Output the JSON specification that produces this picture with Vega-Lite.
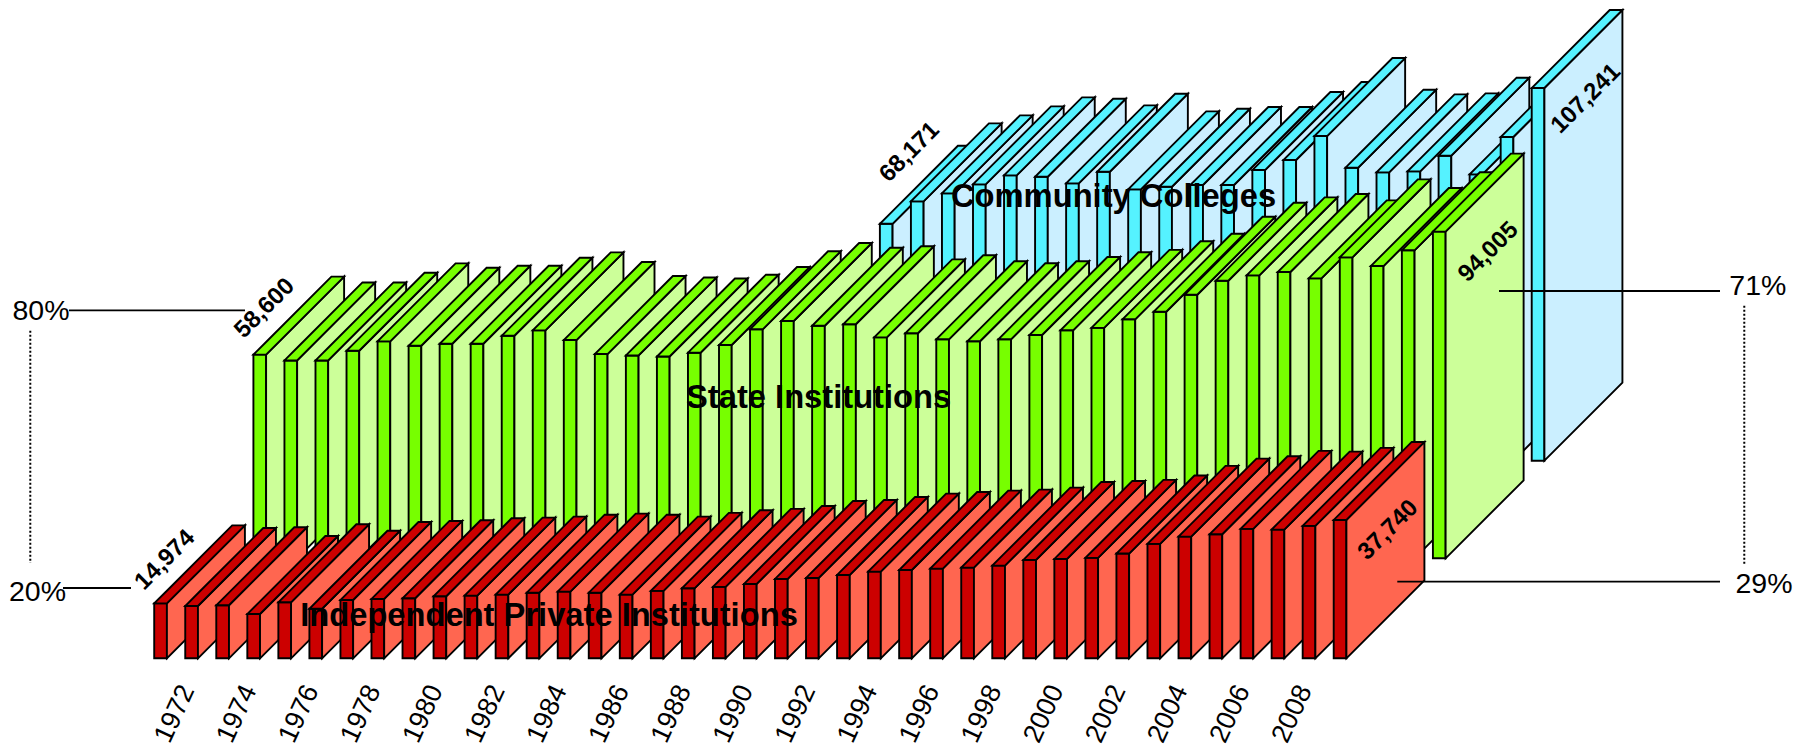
{"$schema":"https://vega.github.io/schema/vega-lite/v6.json","width":1813,"height":749,"padding":0,"autosize":"none","background":"white","view":{"stroke":null},
"data":{"values":[
{"series":"Community Colleges","year":1989,"value":68171},{"series":"Community Colleges","year":1990,"value":74620},{"series":"Community Colleges","year":1991,"value":76930},{"series":"Community Colleges","year":1992,"value":79520},{"series":"Community Colleges","year":1993,"value":82110},{"series":"Community Colleges","year":1994,"value":81720},{"series":"Community Colleges","year":1995,"value":79810},{"series":"Community Colleges","year":1996,"value":83160},{"series":"Community Colleges","year":1997,"value":78080},{"series":"Community Colleges","year":1998,"value":78840},{"series":"Community Colleges","year":1999,"value":79330},{"series":"Community Colleges","year":2000,"value":79330},{"series":"Community Colleges","year":2001,"value":83640},{"series":"Community Colleges","year":2002,"value":86530},{"series":"Community Colleges","year":2003,"value":93420},{"series":"Community Colleges","year":2004,"value":84320},{"series":"Community Colleges","year":2005,"value":82980},{"series":"Community Colleges","year":2006,"value":83260},{"series":"Community Colleges","year":2007,"value":87770},{"series":"Community Colleges","year":2008,"value":82400},{"series":"Community Colleges","year":2009,"value":93140},{"series":"Community Colleges","year":2010,"value":107241},
{"series":"State Institutions","year":1972,"value":58600},{"series":"State Institutions","year":1973,"value":56940},{"series":"State Institutions","year":1974,"value":56940},{"series":"State Institutions","year":1975,"value":59720},{"series":"State Institutions","year":1976,"value":62420},{"series":"State Institutions","year":1977,"value":61160},{"series":"State Institutions","year":1978,"value":61740},{"series":"State Institutions","year":1979,"value":61740},{"series":"State Institutions","year":1980,"value":64040},{"series":"State Institutions","year":1981,"value":65580},{"series":"State Institutions","year":1982,"value":62800},{"series":"State Institutions","year":1983,"value":58770},{"series":"State Institutions","year":1984,"value":58380},{"series":"State Institutions","year":1985,"value":58080},{"series":"State Institutions","year":1986,"value":59170},{"series":"State Institutions","year":1987,"value":61370},{"series":"State Institutions","year":1988,"value":65900},{"series":"State Institutions","year":1989,"value":68280},{"series":"State Institutions","year":1990,"value":66930},{"series":"State Institutions","year":1991,"value":67340},{"series":"State Institutions","year":1992,"value":63590},{"series":"State Institutions","year":1993,"value":64750},{"series":"State Institutions","year":1994,"value":63020},{"series":"State Institutions","year":1995,"value":62450},{"series":"State Institutions","year":1996,"value":63020},{"series":"State Institutions","year":1997,"value":64250},{"series":"State Institutions","year":1998,"value":65610},{"series":"State Institutions","year":1999,"value":66310},{"series":"State Institutions","year":2000,"value":68770},{"series":"State Institutions","year":2001,"value":70940},{"series":"State Institutions","year":2002,"value":75840},{"series":"State Institutions","year":2003,"value":79870},{"series":"State Institutions","year":2004,"value":81430},{"series":"State Institutions","year":2005,"value":82380},{"series":"State Institutions","year":2006,"value":80560},{"series":"State Institutions","year":2007,"value":86610},{"series":"State Institutions","year":2008,"value":84100},{"series":"State Institutions","year":2009,"value":88630},{"series":"State Institutions","year":2010,"value":94005},
{"series":"Independent Private Institutions","year":1972,"value":14974},{"series":"Independent Private Institutions","year":1973,"value":14270},{"series":"Independent Private Institutions","year":1974,"value":14460},{"series":"Independent Private Institutions","year":1975,"value":12080},{"series":"Independent Private Institutions","year":1976,"value":15270},{"series":"Independent Private Institutions","year":1977,"value":13520},{"series":"Independent Private Institutions","year":1978,"value":15900},{"series":"Independent Private Institutions","year":1979,"value":16190},{"series":"Independent Private Institutions","year":1980,"value":16380},{"series":"Independent Private Institutions","year":1981,"value":16920},{"series":"Independent Private Institutions","year":1982,"value":17090},{"series":"Independent Private Institutions","year":1983,"value":17380},{"series":"Independent Private Institutions","year":1984,"value":17900},{"series":"Independent Private Institutions","year":1985,"value":18190},{"series":"Independent Private Institutions","year":1986,"value":17900},{"series":"Independent Private Institutions","year":1987,"value":17380},{"series":"Independent Private Institutions","year":1988,"value":18380},{"series":"Independent Private Institutions","year":1989,"value":19090},{"series":"Independent Private Institutions","year":1990,"value":19470},{"series":"Independent Private Institutions","year":1991,"value":20280},{"series":"Independent Private Institutions","year":1992,"value":21650},{"series":"Independent Private Institutions","year":1993,"value":21920},{"series":"Independent Private Institutions","year":1994,"value":22740},{"series":"Independent Private Institutions","year":1995,"value":23650},{"series":"Independent Private Institutions","year":1996,"value":24090},{"series":"Independent Private Institutions","year":1997,"value":24470},{"series":"Independent Private Institutions","year":1998,"value":24740},{"series":"Independent Private Institutions","year":1999,"value":25280},{"series":"Independent Private Institutions","year":2000,"value":26830},{"series":"Independent Private Institutions","year":2001,"value":27100},{"series":"Independent Private Institutions","year":2002,"value":27380},{"series":"Independent Private Institutions","year":2003,"value":28570},{"series":"Independent Private Institutions","year":2004,"value":31200},{"series":"Independent Private Institutions","year":2005,"value":33200},{"series":"Independent Private Institutions","year":2006,"value":33830},{"series":"Independent Private Institutions","year":2007,"value":35290},{"series":"Independent Private Institutions","year":2008,"value":35110},{"series":"Independent Private Institutions","year":2009,"value":36110},{"series":"Independent Private Institutions","year":2010,"value":37740}
]},
"transform":[
{"calculate":"datum.series=='Community Colleges'?6.379:datum.series=='State Institutions'?3.196:0","as":"ox"},
{"calculate":"datum.series=='Community Colleges'?56863:datum.series=='State Institutions'?28777:0","as":"oy"},
{"calculate":"datum.series=='Independent Private Institutions'?datum.value*1.055:datum.value","as":"h"},
{"calculate":"datum.year+datum.ox","as":"sx"},
{"calculate":"datum.oy+datum.h","as":"top"}
],
"encoding":{},
"layer":[
{"transform":[
{"calculate":"[{f:0,a:0,l:0,m:0,n:0},{f:0,a:0.409,l:0,m:0,n:0},{f:1,a:0.409,l:0,m:0,n:0},{f:1,a:2.922,l:0,m:22446,n:22446},{f:2,a:0,l:1,m:0,n:0},{f:2,a:0.409,l:1,m:0,n:3653},{f:2,a:2.513,l:1,m:18793,n:22446},{f:2,a:2.922,l:1,m:22446,n:22446}]","as":"verts"},
{"flatten":["verts"]},
{"calculate":"datum.sx+datum.verts.a","as":"vx"},
{"calculate":"datum.oy+datum.verts.l*datum.h+datum.verts.m","as":"lo"},
{"calculate":"datum.top+datum.verts.n","as":"hi"},
{"calculate":"'s'+datum.series+'y'+datum.year+'f'+datum.verts.f","as":"face"},
{"calculate":"datum.series+(datum.verts.f==1?' side':' face')","as":"paint"}
],
"mark":{"type":"area","orient":"vertical","stroke":"#000000","strokeWidth":1.9,"strokeJoin":"miter","opacity":1,"interpolate":"linear","clip":false},
"encoding":{
"x":{"field":"vx","type":"quantitative","axis":null,"scale":{"domain":[1967.032,2025.441],"nice":false,"zero":false}},
"y":{"field":"lo","type":"quantitative","axis":null,"stack":null,"scale":{"domain":[-26101,189439],"nice":false,"zero":false}},
"y2":{"field":"hi"},
"detail":{"field":"face","type":"nominal"},
"fill":{"field":"paint","type":"nominal","legend":null,"scale":{"domain":["Community Colleges face","Community Colleges side","State Institutions face","State Institutions side","Independent Private Institutions face","Independent Private Institutions side"],"range":["#55F2FF","#CBEFFF","#77FF00","#CCFF99","#CC0000","#FF6650"]}}
}},
{"transform":[{"filter":"datum.series=='Independent Private Institutions'&&datum.year%2==0&&datum.year<=2008"},{"calculate":"datum.year+0.67","as":"lx"}],
"mark":{"type":"text","font":"Liberation Sans","fontSize":27,"angle":295,"align":"center","baseline":"middle","color":"#000000"},
"encoding":{"x":{"field":"lx","type":"quantitative"},"y":{"datum":-16000},"text":{"field":"year","type":"nominal"}}},
{"transform":[{"filter":"datum.series=='Independent Private Institutions'&&datum.year==1972"}],"mark":{"type":"text","font":"Liberation Sans","fontWeight":"bold","fontSize":24,"angle":315,"align":"center","baseline":"middle","dx":38.3,"dy":-23,"color":"#000000"},"encoding":{"x":{"field":"sx","type":"quantitative"},"y":{"field":"top","type":"quantitative"},"text":{"field":"value","type":"quantitative","format":",d"}}},
{"transform":[{"filter":"datum.series=='State Institutions'&&datum.year==1972"}],"mark":{"type":"text","font":"Liberation Sans","fontWeight":"bold","fontSize":24,"angle":315,"align":"center","baseline":"middle","dx":40.8,"dy":-24.8,"color":"#000000"},"encoding":{"x":{"field":"sx","type":"quantitative"},"y":{"field":"top","type":"quantitative"},"text":{"field":"value","type":"quantitative","format":",d"}}},
{"transform":[{"filter":"datum.series=='Community Colleges'&&datum.year==1989"}],"mark":{"type":"text","font":"Liberation Sans","fontWeight":"bold","fontSize":24,"angle":315,"align":"center","baseline":"middle","dx":71.6,"dy":-29.5,"color":"#000000"},"encoding":{"x":{"field":"sx","type":"quantitative"},"y":{"field":"top","type":"quantitative"},"text":{"field":"value","type":"quantitative","format":",d"}}},
{"transform":[{"filter":"datum.series=='Independent Private Institutions'&&datum.year==2010"}],"mark":{"type":"text","font":"Liberation Sans","fontWeight":"bold","fontSize":24,"angle":315,"align":"center","baseline":"middle","dx":31.5,"dy":45.7,"color":"#000000"},"encoding":{"x":{"field":"sx","type":"quantitative"},"y":{"field":"top","type":"quantitative"},"text":{"field":"value","type":"quantitative","format":",d"}}},
{"transform":[{"filter":"datum.series=='State Institutions'&&datum.year==2010"}],"mark":{"type":"text","font":"Liberation Sans","fontWeight":"bold","fontSize":24,"angle":315,"align":"center","baseline":"middle","dx":24.8,"dy":53.7,"color":"#000000"},"encoding":{"x":{"field":"sx","type":"quantitative"},"y":{"field":"top","type":"quantitative"},"text":{"field":"value","type":"quantitative","format":",d"}}},
{"transform":[{"filter":"datum.series=='Community Colleges'&&datum.year==2010"}],"mark":{"type":"text","font":"Liberation Sans","fontWeight":"bold","fontSize":24,"angle":315,"align":"center","baseline":"middle","dx":30.8,"dy":46,"color":"#000000"},"encoding":{"x":{"field":"sx","type":"quantitative"},"y":{"field":"top","type":"quantitative"},"text":{"field":"value","type":"quantitative","format":",d"}}},
{"data":{"values":[{"label":"Community Colleges"}]},"mark":{"type":"text","font":"Liberation Sans","fontWeight":"bold","fontSize":32.7,"align":"center","baseline":"middle","color":"#000000"},"encoding":{"x":{"datum":2002.906},"y":{"datum":132892},"text":{"field":"label"}}},
{"data":{"values":[{"label":"State Institutions"}]},"mark":{"type":"text","font":"Liberation Sans","fontWeight":"bold","fontSize":32.7,"align":"center","baseline":"middle","color":"#000000"},"encoding":{"x":{"datum":1993.405},"y":{"datum":74993},"text":{"field":"label"}}},
{"data":{"values":[{"label":"Independent Private Institutions"}]},"mark":{"type":"text","font":"Liberation Sans","fontWeight":"bold","fontSize":32.7,"align":"center","baseline":"middle","color":"#000000"},"encoding":{"x":{"datum":1984.719},"y":{"datum":12173},"text":{"field":"label"}}},
{"data":{"values":[{"label":"80%"}]},"mark":{"type":"text","font":"Liberation Sans","fontSize":28.5,"align":"center","baseline":"middle","color":"#000000"},"encoding":{"x":{"datum":1968.353},"y":{"datum":99942},"text":{"field":"label"}}},
{"data":{"values":[{"label":"20%"}]},"mark":{"type":"text","font":"Liberation Sans","fontSize":28.5,"align":"center","baseline":"middle","color":"#000000"},"encoding":{"x":{"datum":1968.24},"y":{"datum":19165},"text":{"field":"label"}}},
{"data":{"values":[{"label":"71%"}]},"mark":{"type":"text","font":"Liberation Sans","fontSize":28.5,"align":"center","baseline":"middle","color":"#000000"},"encoding":{"x":{"datum":2023.663},"y":{"datum":107137},"text":{"field":"label"}}},
{"data":{"values":[{"label":"29%"}]},"mark":{"type":"text","font":"Liberation Sans","fontSize":28.5,"align":"center","baseline":"middle","color":"#000000"},"encoding":{"x":{"datum":2023.862},"y":{"datum":21295},"text":{"field":"label"}}},
{"data":{"values":[{"note":"80%"}]},"mark":{"type":"rule","stroke":"#000000","strokeWidth":1.8},"encoding":{"x":{"datum":1969.255},"x2":{"datum":1974.925},"y":{"datum":100144}}},
{"data":{"values":[{"note":"20%"}]},"mark":{"type":"rule","stroke":"#000000","strokeWidth":1.8},"encoding":{"x":{"datum":1969.062},"x2":{"datum":1971.252},"y":{"datum":20230}}},
{"data":{"values":[{"note":"71%"}]},"mark":{"type":"rule","stroke":"#000000","strokeWidth":1.8},"encoding":{"x":{"datum":2015.325},"x2":{"datum":2022.445},"y":{"datum":105698}}},
{"data":{"values":[{"note":"29%"}]},"mark":{"type":"rule","stroke":"#000000","strokeWidth":1.8},"encoding":{"x":{"datum":2012.048},"x2":{"datum":2022.445},"y":{"datum":22043}}},
{"data":{"values":[{"note":"left"}]},"mark":{"type":"rule","stroke":"#000000","strokeWidth":2,"strokeDash":[2,2]},"encoding":{"x":{"datum":1968.008},"y":{"datum":94273},"y2":{"datum":27424}}},
{"data":{"values":[{"note":"right"}]},"mark":{"type":"rule","stroke":"#000000","strokeWidth":2,"strokeDash":[2,2]},"encoding":{"x":{"datum":2023.227},"y":{"datum":101468},"y2":{"datum":27137}}}
]}
